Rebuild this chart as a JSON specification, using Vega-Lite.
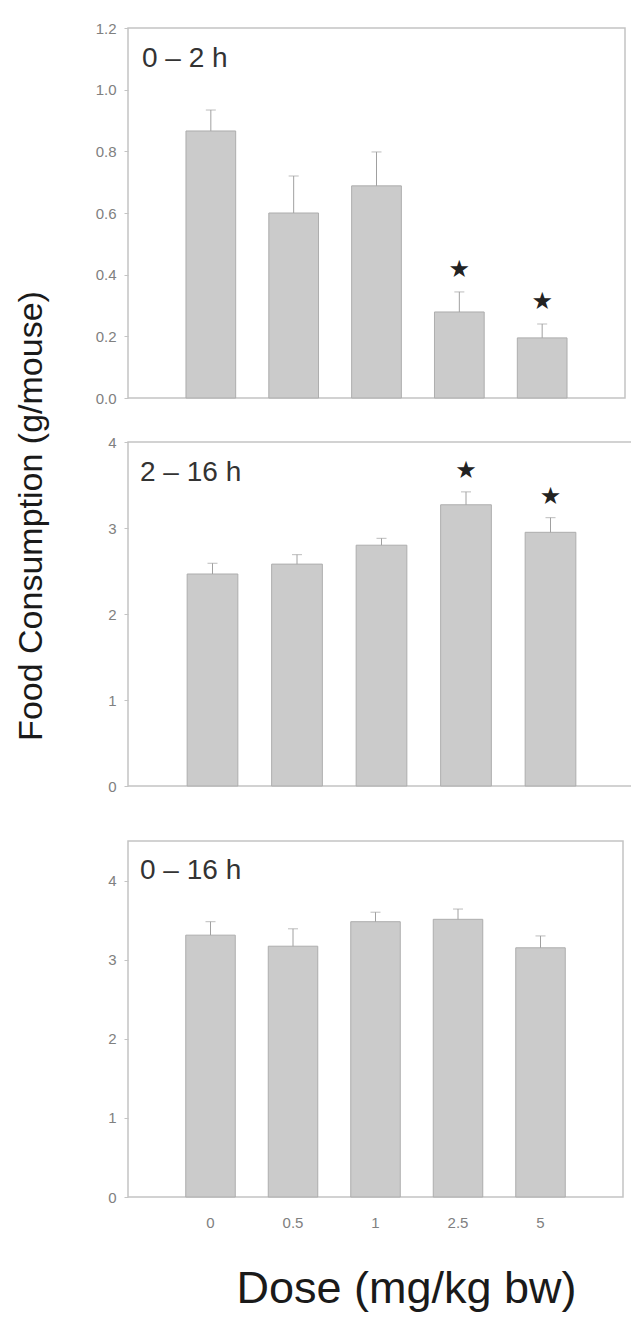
{
  "$schema": "https://vega.github.io/schema/vega-lite/v6.json",
  "background": "white",
  "padding": {"top": 20, "left": 15, "right": 0, "bottom": 5},
  "title": {"text": "Food Consumption (g/mouse)", "orient": "left", "anchor": "middle", "fontSize": 34,
            "fontWeight": "normal", "color": "#1a1a1a", "offset": 45, "dx": 150},
  "datasets": {
    "p1": [
      {"dose": "0", "mean": 0.866, "err": 0.934, "sig": false},
      {"dose": "0.5", "mean": 0.60, "err": 0.72, "sig": false},
      {"dose": "1", "mean": 0.688, "err": 0.798, "sig": false},
      {"dose": "2.5", "mean": 0.279, "err": 0.344, "sig": true},
      {"dose": "5", "mean": 0.195, "err": 0.24, "sig": true}
    ],
    "p2": [
      {"dose": "0", "mean": 2.465, "err": 2.59, "sig": false},
      {"dose": "0.5", "mean": 2.58, "err": 2.69, "sig": false},
      {"dose": "1", "mean": 2.80, "err": 2.88, "sig": false},
      {"dose": "2.5", "mean": 3.27, "err": 3.42, "sig": true},
      {"dose": "5", "mean": 2.95, "err": 3.12, "sig": true}
    ],
    "p3": [
      {"dose": "0", "mean": 3.31, "err": 3.48, "sig": false},
      {"dose": "0.5", "mean": 3.17, "err": 3.39, "sig": false},
      {"dose": "1", "mean": 3.48, "err": 3.60, "sig": false},
      {"dose": "2.5", "mean": 3.51, "err": 3.64, "sig": false},
      {"dose": "5", "mean": 3.15, "err": 3.30, "sig": false}
    ]
  },
  "spacing": 27,
  "vconcat": [
    {
      "width": 497,
      "height": 370,
      "data": {"name": "p1"},
      "title": {"text": "0 – 2 h", "anchor": "start", "frame": "group", "offset": -52, "dx": 14, "fontSize": 28, "fontWeight": "normal", "color": "#333333"},
      "encoding": {
        "x": {"field": "dose", "type": "nominal", "sort": ["0", "0.5", "1", "2.5", "5"],
              "scale": {"paddingInner": 0.4, "paddingOuter": 0.7},
              "axis": {"labels": false, "title": null, "ticks": false, "domain": false}}
      },
      "layer": [
        {"mark": {"type": "bar", "fill": "#cbcbcb", "stroke": "#adadad", "strokeWidth": 1},
         "encoding": {"y": {"field": "mean", "type": "quantitative", "scale": {"domain": [0, 1.2]},
           "axis": {"values": [0, 0.2, 0.4, 0.6, 0.8, 1.0, 1.2], "format": ".1f", "title": null}}}},
        {"mark": {"type": "rule", "color": "#a0a0a0", "strokeWidth": 1},
         "encoding": {"y": {"field": "mean", "type": "quantitative"}, "y2": {"field": "err"}}},
        {"mark": {"type": "tick", "color": "#a0a0a0", "size": 10, "thickness": 1},
         "encoding": {"y": {"field": "err", "type": "quantitative"}}},
        {"transform": [{"filter": {"field": "sig", "equal": true}}],
         "mark": {"type": "text", "text": "★", "font": "DejaVu Sans", "fontSize": 24, "color": "#222222", "baseline": "middle", "dy": -22},
         "encoding": {"y": {"field": "err", "type": "quantitative"}}}
      ]
    },
    {
      "width": 507,
      "height": 344,
      "data": {"name": "p2"},
      "title": {"text": "2 – 16 h", "anchor": "start", "frame": "group", "offset": -52, "dx": 12, "fontSize": 28, "fontWeight": "normal", "color": "#333333"},
      "encoding": {
        "x": {"field": "dose", "type": "nominal", "sort": ["0", "0.5", "1", "2.5", "5"],
              "scale": {"paddingInner": 0.4, "paddingOuter": 0.7},
              "axis": {"labels": false, "title": null, "ticks": false, "domain": false, "minExtent": 26}}
      },
      "layer": [
        {"mark": {"type": "bar", "fill": "#cbcbcb", "stroke": "#adadad", "strokeWidth": 1},
         "encoding": {"y": {"field": "mean", "type": "quantitative", "scale": {"domain": [0, 4]},
           "axis": {"values": [0, 1, 2, 3, 4], "format": "d", "title": null}}}},
        {"mark": {"type": "rule", "color": "#a0a0a0", "strokeWidth": 1},
         "encoding": {"y": {"field": "mean", "type": "quantitative"}, "y2": {"field": "err"}}},
        {"mark": {"type": "tick", "color": "#a0a0a0", "size": 10, "thickness": 1},
         "encoding": {"y": {"field": "err", "type": "quantitative"}}},
        {"transform": [{"filter": {"field": "sig", "equal": true}}],
         "mark": {"type": "text", "text": "★", "font": "DejaVu Sans", "fontSize": 24, "color": "#222222", "baseline": "middle", "dy": -21},
         "encoding": {"y": {"field": "err", "type": "quantitative"}}}
      ]
    },
    {
      "width": 495,
      "height": 356,
      "data": {"name": "p3"},
      "title": {"text": "0 – 16 h", "anchor": "start", "frame": "group", "offset": -44, "dx": 12, "fontSize": 28, "fontWeight": "normal", "color": "#333333"},
      "encoding": {
        "x": {"field": "dose", "type": "nominal", "sort": ["0", "0.5", "1", "2.5", "5"],
              "scale": {"paddingInner": 0.4, "paddingOuter": 0.7},
              "axis": {"labelAngle": 0, "labelPadding": 18, "ticks": false, "domain": false,
                       "title": "Dose (mg/kg bw)", "titleFontSize": 45, "titleFontWeight": "normal",
                       "titleColor": "#1a1a1a", "titlePadding": 36, "titleX": 278}}
      },
      "layer": [
        {"mark": {"type": "bar", "fill": "#cbcbcb", "stroke": "#adadad", "strokeWidth": 1},
         "encoding": {"y": {"field": "mean", "type": "quantitative", "scale": {"domain": [0, 4.5]},
           "axis": {"values": [0, 1, 2, 3, 4], "format": "d", "title": null}}}},
        {"mark": {"type": "rule", "color": "#a0a0a0", "strokeWidth": 1},
         "encoding": {"y": {"field": "mean", "type": "quantitative"}, "y2": {"field": "err"}}},
        {"mark": {"type": "tick", "color": "#a0a0a0", "size": 10, "thickness": 1},
         "encoding": {"y": {"field": "err", "type": "quantitative"}}}
      ]
    }
  ],
  "config": {
    "font": "Liberation Sans",
    "view": {"stroke": "#c4c4c4", "strokeWidth": 1.5},
    "axis": {"grid": false, "labelFont": "Liberation Sans", "labelFontSize": 15, "labelColor": "#808080",
             "tickColor": "#c4c4c4", "tickSize": 4, "domain": false, "labelPadding": 8},
    "title": {"font": "Liberation Sans"}
  }
}
